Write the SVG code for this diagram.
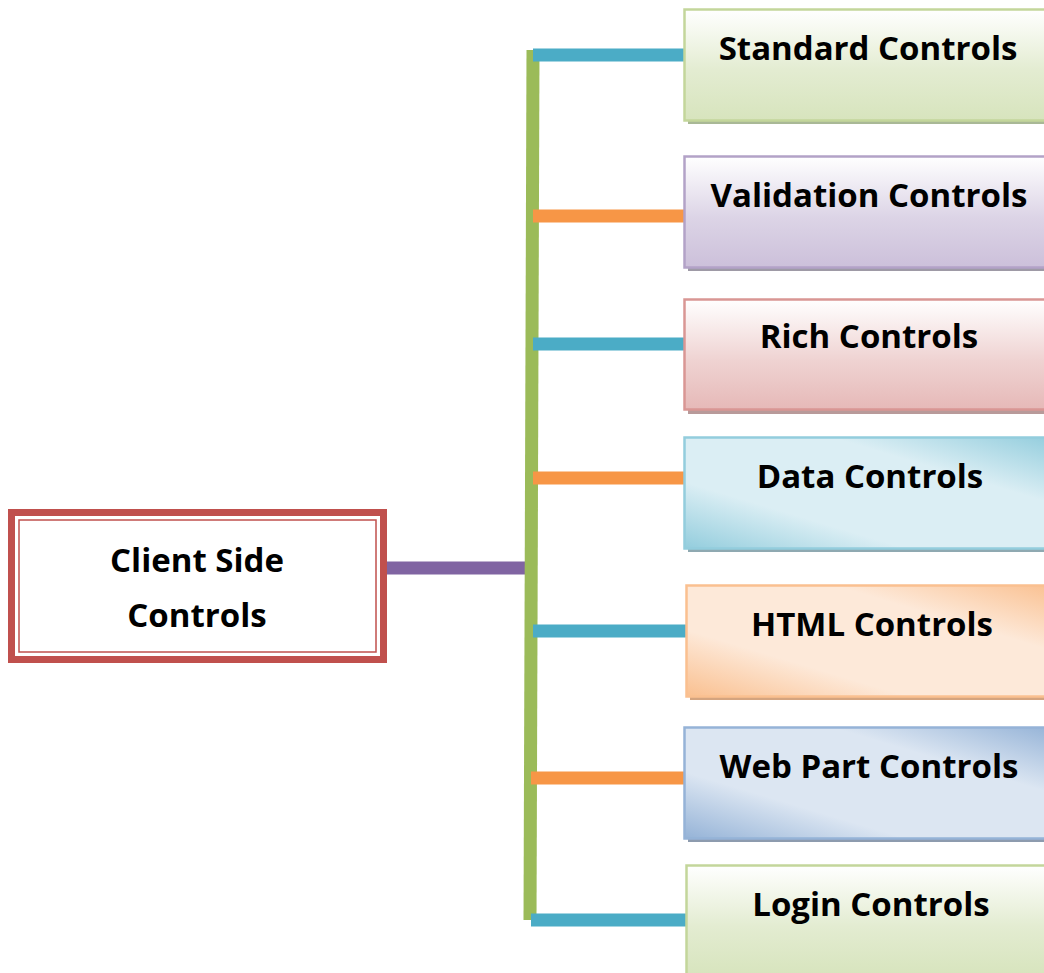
<svg xmlns="http://www.w3.org/2000/svg" width="1044" height="973" viewBox="0 0 1044 973">
<defs>
<linearGradient id="gGreen" x1="0" y1="0" x2="0" y2="1"><stop offset="0" stop-color="#ffffff"/><stop offset="0.55" stop-color="#e3ecd1"/><stop offset="1" stop-color="#d7e4bd"/></linearGradient>
<linearGradient id="gPurple" x1="0" y1="0" x2="0" y2="1"><stop offset="0" stop-color="#ffffff"/><stop offset="0.55" stop-color="#dcd4e6"/><stop offset="1" stop-color="#ccc0da"/></linearGradient>
<linearGradient id="gPink" x1="0" y1="0" x2="0" y2="1"><stop offset="0" stop-color="#ffffff"/><stop offset="0.55" stop-color="#efd3d2"/><stop offset="1" stop-color="#e6b9b8"/></linearGradient>
<linearGradient id="gBlue" x1="0" y1="1" x2="1" y2="0"><stop offset="0" stop-color="#93cddd"/><stop offset="0.3" stop-color="#dbeef4"/><stop offset="0.7" stop-color="#dbeef4"/><stop offset="1" stop-color="#93cddd"/></linearGradient>
<linearGradient id="gOrange" x1="0" y1="1" x2="1" y2="0"><stop offset="0" stop-color="#fac090"/><stop offset="0.3" stop-color="#fde9d9"/><stop offset="0.7" stop-color="#fde9d9"/><stop offset="1" stop-color="#fac090"/></linearGradient>
<linearGradient id="gSteel" x1="0" y1="1" x2="1" y2="0"><stop offset="0" stop-color="#95b3d7"/><stop offset="0.3" stop-color="#dce6f2"/><stop offset="0.7" stop-color="#dce6f2"/><stop offset="1" stop-color="#95b3d7"/></linearGradient>
<style>
.lbl{font-family:"Open Sans","Noto Sans","Liberation Sans",sans-serif;font-weight:bold;font-size:33px;fill:#000;text-anchor:middle}
.box{stroke-width:2.5}
.con{stroke-width:13;fill:none}
</style>
</defs>

<g id="connectors">
<line x1="380" y1="568" x2="527" y2="568" stroke="#8064a2" class="con" stroke-width="11"/>
<line x1="533" y1="50" x2="530" y2="920" stroke="#9bbb59" class="con"/>
<line x1="533" y1="55" x2="686" y2="55" stroke="#4bacc6" class="con"/>
<line x1="533" y1="216" x2="686" y2="216" stroke="#f79646" class="con"/>
<line x1="533" y1="344" x2="686" y2="344" stroke="#4bacc6" class="con"/>
<line x1="533" y1="478" x2="686" y2="478" stroke="#f79646" class="con"/>
<line x1="533" y1="631" x2="688" y2="631" stroke="#4bacc6" class="con"/>
<line x1="531" y1="778" x2="686" y2="778" stroke="#f79646" class="con"/>
<line x1="531" y1="920" x2="688" y2="920" stroke="#4bacc6" class="con"/>
</g>

<g id="client">
<rect x="11.5" y="512.5" width="372" height="147" fill="#fff" stroke="#c0504d" stroke-width="7"/>
<rect x="19" y="520" width="357" height="132" fill="none" stroke="#c0504d" stroke-width="1.5"/>
<text class="lbl" x="197" y="572">Client Side</text>
<text class="lbl" x="197" y="627">Controls</text>
</g>

<g id="standard">
<rect x="688" y="13" width="370" height="111" fill="#a9b896"/>
<rect x="684.5" y="9.5" width="370" height="111" fill="url(#gGreen)" stroke="#c3d69b" class="box"/>
<text class="lbl" x="868" y="60">Standard Controls</text>
</g>

<g id="validation">
<rect x="688" y="160" width="370" height="111" fill="#9e9aa6"/>
<rect x="684.5" y="156.5" width="370" height="111" fill="url(#gPurple)" stroke="#b3a2c7" class="box"/>
<text class="lbl" x="869" y="207">Validation Controls</text>
</g>

<g id="rich">
<rect x="688" y="303" width="370" height="111" fill="#b89a9a"/>
<rect x="684.5" y="299.5" width="370" height="110" fill="url(#gPink)" stroke="#d99694" class="box"/>
<text class="lbl" x="869" y="348">Rich Controls</text>
</g>

<g id="data">
<rect x="688" y="441" width="370" height="111" fill="#8fa9b1"/>
<rect x="684.5" y="437.5" width="370" height="111" fill="url(#gBlue)" stroke="#93cddd" class="box"/>
<text class="lbl" x="870" y="488">Data Controls</text>
</g>

<g id="html">
<rect x="690" y="589" width="370" height="111" fill="#d4a47f"/>
<rect x="686.5" y="585.5" width="370" height="111" fill="url(#gOrange)" stroke="#fac090" class="box"/>
<text class="lbl" x="872" y="636">HTML Controls</text>
</g>

<g id="webpart">
<rect x="688" y="731" width="370" height="111" fill="#8d9bae"/>
<rect x="684.5" y="727.5" width="370" height="111" fill="url(#gSteel)" stroke="#95b3d7" class="box"/>
<text class="lbl" x="869" y="778">Web Part Controls</text>
</g>

<g id="login">
<rect x="690" y="869" width="370" height="111" fill="#a9b896"/>
<rect x="686.5" y="865.5" width="370" height="111" fill="url(#gGreen)" stroke="#c3d69b" class="box"/>
<text class="lbl" x="871" y="916">Login Controls</text>
</g>
</svg>
